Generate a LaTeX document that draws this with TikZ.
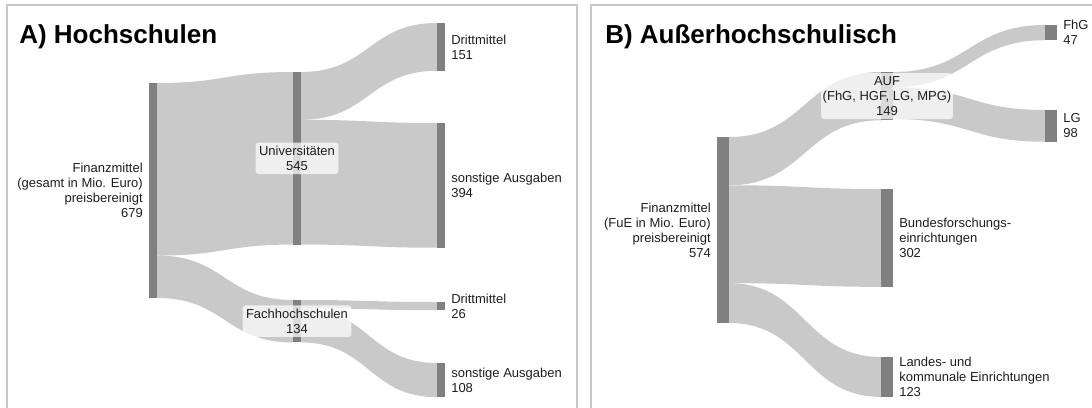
\documentclass[tikz,border=0pt]{standalone}
\usepackage{fontspec}
\setmainfont{Liberation Sans}
\usetikzlibrary{positioning,calc,backgrounds}

\definecolor{bandgray}{HTML}{C9C9C9}
\definecolor{bargray}{HTML}{808080}
\definecolor{framegray}{HTML}{C8C8C8}
\definecolor{txtgray}{HTML}{1E1E1E}

% px per unit of money (changed per panel)
\newcommand{\flowk}{0.3166}
% band: from node, offset, to node, offset, value
\newcommand{\band}[5]{%
  \path ($(#1.north east)+(0,{#2*\flowk})$) coordinate (b1)
        ($(#3.north west)+(0,{#4*\flowk})$) coordinate (b2)
        ($(b1)+(0,{#5*\flowk})$) coordinate (b4)
        ($(b2)+(0,{#5*\flowk})$) coordinate (b3)
        ($(b1)!0.5!(b2)$) coordinate (bm);
  \begin{pgfonlayer}{background}
    \fill[bandgray] (b1) .. controls (bm|-b1) and (bm|-b2) .. (b2) -- (b3)
      .. controls (bm|-b3) and (bm|-b4) .. (b4) -- cycle;
  \end{pgfonlayer}}

\begin{document}
\begin{tikzpicture}[x=0.75pt, y=-0.75pt,
  font=\fontsize{9.75}{11.25}\selectfont,
  sbar/.style={fill=bargray, inner sep=0, outer sep=0, anchor=north,
    minimum width=6pt, minimum height={#1*\flowk*0.75pt}},
  lbl/.style={inner sep=0, text=txtgray},
  lblbox/.style={fill=white, fill opacity=0.72, text opacity=1, text=txtgray,
    rounded corners=2.25pt, inner xsep=2.6pt, inner ysep=2.6pt, align=center},
  title/.style={anchor=base west, inner sep=0,
    font=\fontsize{19.5}{22}\selectfont\bfseries},
  frame/.style={draw=framegray, line width=1.5pt}]

  \useasboundingbox (0,0) rectangle (1092,407);
  \draw[frame] (7,5) rectangle (577,440);
  \draw[frame] (591,5) rectangle (1120,440);

  % A) Hochschulen
  \node[title] (titA) at (19,43) {A) Hochschulen};

  \node[sbar=679] (srcA) at (153,83) {};
  \node[sbar=545] (uni) at (297,72) {};
  \node[sbar=134] (fh) at (297,300) {};
  \node[sbar=151] (dmA) at (441,23) {};
  \node[sbar=394] (soA) at (441,123) {};
  \node[sbar=26] (dmB) at (441,302) {};
  \node[sbar=108] (soB) at (441,363) {};

  \foreach \a/\ao/\b/\bo/\v in {srcA/0/uni/0/545, srcA/545/fh/0/134,
      uni/0/dmA/0/151, uni/151/soA/0/394, fh/0/dmB/0/26, fh/26/soB/0/108}
    \band{\a}{\ao}{\b}{\bo}{\v};

  \node[lbl, align=right, left=4.5pt of srcA] (lsrcA)
    {Finanzmittel\\(gesamt in Mio. Euro)\\preisbereinigt\\679};
  \node[lblbox] (luni) at (uni.center) {Universitäten\\545};
  \node[lblbox] (lfh) at (fh.center) {Fachhochschulen\\134};
  \node[lbl, align=left, right=4.5pt of dmA] (ldmA) {Drittmittel\\151};
  \node[lbl, align=left, right=4.5pt of soA] (lsoA) {sonstige Ausgaben\\394};
  \node[lbl, align=left, right=4.5pt of dmB] (ldmB) {Drittmittel\\26};
  \node[lbl, align=left, right=4.5pt of soB] (lsoB) {sonstige Ausgaben\\108};

  % B) Ausserhochschulisch
  \renewcommand{\flowk}{0.324}
  \node[title] (titB) at (605,43) {B) Außerhochschulisch};

  \node[sbar=574, minimum width=9pt] (srcB) at (723,137) {};
  \node[sbar=149, minimum width=9pt] (auf) at (887,72) {};
  \node[sbar=302, minimum width=9pt] (bund) at (887,189) {};
  \node[sbar=123, minimum width=9pt] (land) at (887,357) {};
  \node[sbar=47, minimum width=9pt] (fhg) at (1051,25) {};
  \node[sbar=98, minimum width=9pt] (lg) at (1051,110) {};

  \foreach \a/\ao/\b/\bo/\v in {srcB/0/auf/0/149, srcB/149/bund/0/302,
      srcB/451/land/0/123, auf/0/fhg/0/47, auf/47/lg/0/98}
    \band{\a}{\ao}{\b}{\bo}{\v};

  \node[lbl, align=right, left=4.5pt of srcB] (lsrcB)
    {Finanzmittel\\(FuE in Mio. Euro)\\preisbereinigt\\574};
  \node[lblbox, inner xsep=1.2pt] (lauf) at (auf.center) {AUF\\(FhG, HGF, LG, MPG)\\149};
  \node[lbl, align=left, right=4.5pt of bund] (lbund)
    {Bundesforschungs-\\einrichtungen\\302};
  \node[lbl, align=left, right=4.5pt of land] (lland)
    {Landes- und\\kommunale Einrichtungen\\123};
  \node[lbl, align=left, right=4.5pt of fhg] (lfhg) {FhG\\47};
  \node[lbl, align=left, right=4.5pt of lg] (llg) {LG\\98};
\end{tikzpicture}
\end{document}
